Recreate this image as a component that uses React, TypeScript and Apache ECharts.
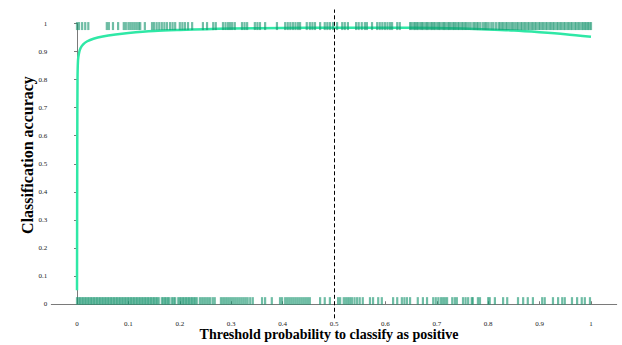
import React, { useEffect, useRef } from "react";
import * as echarts from "echarts";

// Accuracy curve (threshold, accuracy)
const thresholds = [0, 0.0005, 0.001, 0.002, 0.004, 0.007, 0.012, 0.02, 0.032, 0.05, 0.075, 0.1, 0.15, 0.2, 0.25, 0.3, 0.4, 0.5, 0.6, 0.7, 0.75, 0.8, 0.85, 0.9, 0.95, 1.0];
const accuracy = [0.05, 0.55, 0.8, 0.87, 0.895, 0.913, 0.926, 0.937, 0.946, 0.954, 0.961, 0.966, 0.973, 0.977, 0.98, 0.982, 0.984, 0.985, 0.985, 0.984, 0.982, 0.979, 0.975, 0.969, 0.962, 0.953];

// Predicted probabilities of positive-class samples (top rug)
const positiveProbs = [
  0.0, 0.004, 0.01, 0.016, 0.022, 0.058, 0.062, 0.07, 0.08,
  0.091, 0.095, 0.1, 0.104, 0.108, 0.112, 0.116, 0.12, 0.123, 0.132,
  0.146, 0.15, 0.155, 0.16, 0.165, 0.17, 0.175, 0.181, 0.186, 0.191,
  0.2, 0.205, 0.21, 0.216, 0.224, 0.245, 0.253, 0.265, 0.27,
  0.284, 0.289, 0.294, 0.298, 0.302, 0.307, 0.321, 0.326, 0.331,
  0.346, 0.351, 0.356, 0.366, 0.389, 0.405, 0.41, 0.415, 0.42, 0.425, 0.43, 0.434,
  0.447, 0.453, 0.458, 0.463, 0.473, 0.482, 0.487, 0.492, 0.498,
  0.506, 0.516, 0.521, 0.527, 0.543, 0.548, 0.554, 0.56, 0.564, 0.574,
  0.584, 0.589, 0.594, 0.599, 0.604, 0.609, 0.613, 0.623, 0.628,
  0.648, 0.651, 0.655, 0.658, 0.661, 0.664, 0.668, 0.671, 0.674, 0.678, 0.681, 0.684,
  0.688, 0.691, 0.694, 0.697, 0.701, 0.704, 0.707, 0.711, 0.714, 0.717, 0.721, 0.724,
  0.727, 0.731, 0.734, 0.737, 0.741, 0.744, 0.748, 0.751, 0.755, 0.758, 0.762, 0.766,
  0.771, 0.774, 0.778, 0.781, 0.785, 0.79, 0.794, 0.797, 0.801, 0.806, 0.81, 0.815,
  0.82, 0.823, 0.827, 0.83, 0.834, 0.837, 0.841, 0.845, 0.848, 0.852, 0.856, 0.859,
  0.863, 0.866, 0.87, 0.873, 0.877, 0.88, 0.884, 0.887, 0.891, 0.894, 0.898, 0.901,
  0.905, 0.908, 0.912, 0.915, 0.919, 0.922, 0.926, 0.929, 0.933, 0.936, 0.94, 0.943,
  0.947, 0.95, 0.954, 0.957, 0.961, 0.964, 0.968, 0.971, 0.975, 0.978, 0.982, 0.985,
  0.988, 0.991, 0.994, 0.997, 1.0
];

// Predicted probabilities of negative-class samples (bottom rug)
const negativeProbs = [
  0.0, 0.003, 0.006, 0.009, 0.012, 0.015, 0.018, 0.021, 0.024, 0.027, 0.03, 0.033,
  0.036, 0.039, 0.042, 0.045, 0.048, 0.051, 0.054, 0.057, 0.06, 0.063, 0.066, 0.069,
  0.072, 0.075, 0.078, 0.081, 0.084, 0.087, 0.09, 0.093, 0.096, 0.099, 0.102, 0.105,
  0.108, 0.111, 0.114, 0.117, 0.12, 0.123, 0.126, 0.129, 0.132, 0.135, 0.138, 0.141,
  0.144, 0.147, 0.15, 0.153, 0.156, 0.159, 0.165, 0.168, 0.171, 0.174, 0.177,
  0.18, 0.185, 0.188, 0.191, 0.197, 0.2, 0.203, 0.206, 0.209, 0.212, 0.215,
  0.218, 0.221, 0.224, 0.227, 0.23, 0.233, 0.239, 0.243, 0.247, 0.251, 0.255, 0.259,
  0.264, 0.268, 0.28, 0.284, 0.288, 0.292, 0.296, 0.3, 0.304, 0.308, 0.312, 0.316,
  0.32, 0.324, 0.328, 0.332, 0.337, 0.342, 0.36, 0.366, 0.379, 0.395, 0.399,
  0.405, 0.409, 0.413, 0.417, 0.421, 0.425, 0.429, 0.433, 0.437, 0.441, 0.445, 0.449, 0.453,
  0.473, 0.482, 0.492, 0.508, 0.512, 0.519, 0.523, 0.527, 0.531, 0.535, 0.54, 0.545,
  0.55, 0.556, 0.57, 0.576, 0.586, 0.593, 0.615, 0.623, 0.632, 0.637, 0.642, 0.648,
  0.663, 0.673, 0.681, 0.693, 0.698, 0.703, 0.708, 0.712, 0.716, 0.72, 0.73, 0.735,
  0.739, 0.751, 0.756, 0.761, 0.768, 0.77, 0.78, 0.784, 0.8, 0.803, 0.813, 0.829,
  0.837, 0.858, 0.868, 0.877, 0.887, 0.905, 0.91, 0.926, 0.936, 0.944, 0.949, 0.963,
  0.973, 0.982, 0.988, 0.998
];

const positiveLevel = 0.991;
const negativeLevel = 0.012;
const decisionThreshold = 0.5;

const xTicks = [0, 0.1, 0.2, 0.3, 0.4, 0.5, 0.6, 0.7, 0.8, 0.9, 1];
const xTickLabels = ["0", "0.1", "0.2", "0.3", "0.4", "0.5", "0.6", "0.7", "0.8", "0.9", "1"];

const xTitle = "Threshold probability to classify as positive";
const yTitle = "Classification accuracy";

export default function App() {
  const ref = useRef<HTMLDivElement>(null);
  useEffect(() => {
    if (!ref.current) return;
    const chart = echarts.init(ref.current, null, { renderer: "svg" });
    const serif = "'Liberation Serif', 'Times New Roman', serif";
    const left = 51.3;
    const right = 622 - 616.7;
    const axisGray = "#7a7a7a";
    const rugColor = "#16946e";
    const curveColor = "#2fe8a6";

    chart.setOption({
      animation: false,
      backgroundColor: "#ffffff",
      grid: [
        { left, right, top: 9.5, bottom: 345 - 318.3 },
        { left, right, top: 23.5, bottom: 345 - 304 },
      ],
      xAxis: [
        {
          gridIndex: 0,
          type: "value",
          min: -0.05,
          max: 1.05,
          splitLine: { show: false },
          axisLine: { show: true, lineStyle: { color: axisGray, width: 1 } },
          axisTick: { show: true, inside: true, length: 3, customValues: xTicks, lineStyle: { color: axisGray } },
          axisLabel: {
            show: true,
            customValues: xTicks,
            margin: 2,
            fontSize: 7,
            fontFamily: serif,
            color: "#222",
            formatter: (v: number) => {
              const i = xTicks.findIndex((t) => Math.abs(t - v) < 1e-9);
              return i >= 0 ? xTickLabels[i] : "";
            },
          },
        },
        {
          gridIndex: 1,
          type: "value",
          min: -0.05,
          max: 1.05,
          show: false,
        },
      ],
      yAxis: [
        {
          gridIndex: 0,
          type: "value",
          min: -0.05,
          max: 1.05,
          show: false,
        },
        {
          gridIndex: 1,
          type: "value",
          min: 0,
          max: 1,
          interval: 0.1,
          splitLine: { show: false },
          axisLine: { show: true, lineStyle: { color: axisGray, width: 1 } },
          axisTick: { show: true, inside: false, length: 3, lineStyle: { color: axisGray } },
          axisLabel: {
            margin: 4,
            fontSize: 7,
            fontFamily: serif,
            color: "#222",
            formatter: (v: number) => String(Math.round(v * 10) / 10),
          },
        },
      ],
      series: [
        {
          type: "line",
          xAxisIndex: 0,
          yAxisIndex: 0,
          data: thresholds.map((t, i) => [t, accuracy[i]]),
          showSymbol: false,
          smooth: 0.3,
          lineStyle: { color: curveColor, width: 2.5 },
          z: 2,
          markLine: {
            silent: true,
            symbol: "none",
            label: { show: false },
            lineStyle: { color: "#000", type: [4, 2.5], width: 1 },
            data: [{ xAxis: decisionThreshold }],
          },
        },
        {
          type: "scatter",
          xAxisIndex: 0,
          yAxisIndex: 0,
          data: positiveProbs.map((p) => [p, positiveLevel]),
          symbol: "rect",
          symbolSize: [2.2, 8],
          itemStyle: { color: rugColor, opacity: 0.62 },
          z: 3,
        },
        {
          type: "scatter",
          xAxisIndex: 0,
          yAxisIndex: 0,
          data: negativeProbs.map((p) => [p, negativeLevel]),
          symbol: "rect",
          symbolSize: [2.2, 7.5],
          itemStyle: { color: rugColor, opacity: 0.62 },
          z: 3,
        },
      ],
      graphic: [
        {
          type: "text",
          x: 329,
          y: 334,
          style: {
            text: xTitle,
            font: `bold 14px ${serif}`,
            fill: "#000",
            align: "center",
            verticalAlign: "middle",
          },
        },
        {
          type: "text",
          x: 27,
          y: 155,
          rotation: Math.PI / 2,
          style: {
            text: yTitle,
            font: `bold 16px ${serif}`,
            fill: "#000",
            align: "center",
            verticalAlign: "middle",
          },
        },
      ],
    });
    return () => chart.dispose();
  }, []);
  return <div ref={ref} style={{ position: "fixed", left: 0, top: 0, width: 622, height: 345 }} />;
}
